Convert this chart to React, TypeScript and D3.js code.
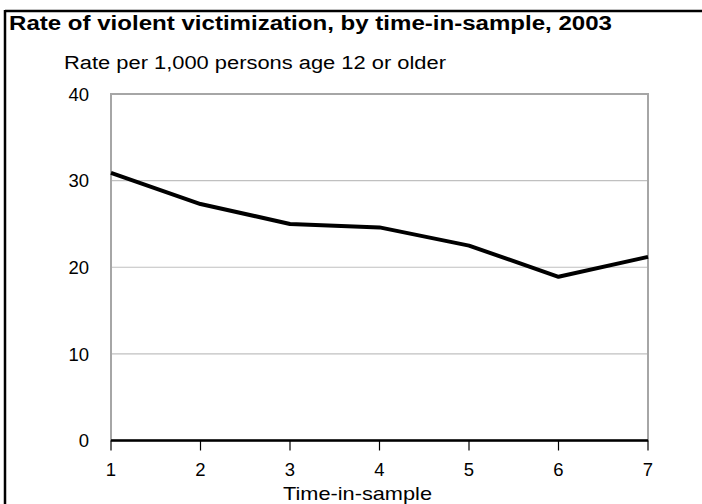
import React from "react";
import * as d3 from "d3";

const periods = [1, 2, 3, 4, 5, 6, 7];
const rates = [30.9, 27.3, 25.0, 24.6, 22.5, 18.9, 21.2];
const yTicks = [0, 10, 20, 30, 40];
const title = "Rate of violent victimization, by time-in-sample, 2003";
const subtitle = "Rate per 1,000 persons age 12 or older";
const xLabel = "Time-in-sample";

export default function App() {
  const W = 702, H = 504;
  const left = 111, right = 648, top = 94, bottom = 440.5;
  const x = d3.scaleLinear().domain([1, 7]).range([left, right]);
  const y = d3.scaleLinear().domain([0, 40]).range([bottom, top]);
  const line = d3.line<number>().x((_, i) => x(periods[i])).y((d) => y(d));
  const font = "'Liberation Sans', Arial, sans-serif";
  return (
    <svg width={W} height={H} style={{ position: "absolute", left: 0, top: 0, background: "#fff" }}>
      <rect x={0} y={0} width={W} height={H} fill="#fff" />
      <line x1={5} x2={W} y1={11} y2={11} stroke="#000" strokeWidth={2.5} />
      <line x1={5} x2={5} y1={10} y2={H} stroke="#000" strokeWidth={2.5} />
      <text x={9} y={30} fontFamily={font} fontWeight="bold" fontSize={20} textLength={603} lengthAdjust="spacingAndGlyphs" fill="#000">{title}</text>
      <text x={64} y={68.5} fontFamily={font} fontSize={18} textLength={382} lengthAdjust="spacingAndGlyphs" fill="#000">{subtitle}</text>
      {yTicks.filter((t) => t > 0 && t < 40).map((t) => (
        <line key={"g" + t} x1={left} x2={right} y1={y(t)} y2={y(t)} stroke="#c0c0c0" strokeWidth={1.2} />
      ))}
      <rect x={left} y={top} width={right - left} height={bottom - top} fill="none" stroke="#a6a6a6" strokeWidth={2} />
      <line x1={left} x2={right} y1={bottom} y2={bottom} stroke="#000" strokeWidth={2.5} />
      {periods.map((p) => (
        <g key={"t" + p}>
          <line x1={x(p)} x2={x(p)} y1={bottom} y2={bottom + 10} stroke="#000" strokeWidth={1.2} />
          <text x={x(p)} y={476} textAnchor="middle" fontFamily={font} fontSize={18.5} fill="#000">{p}</text>
        </g>
      ))}
      {yTicks.map((t) => (
        <text key={"y" + t} x={89} y={y(t)} dy="0.36em" textAnchor="end" fontFamily={font} fontSize={18.5} fill="#000">{t}</text>
      ))}
      <path d={line(rates) || ""} fill="none" stroke="#000" strokeWidth={4} strokeLinejoin="round" />
      <text x={357.5} y={500} textAnchor="middle" fontFamily={font} fontSize={18.5} textLength={149} lengthAdjust="spacingAndGlyphs" fill="#000">{xLabel}</text>
    </svg>
  );
}
